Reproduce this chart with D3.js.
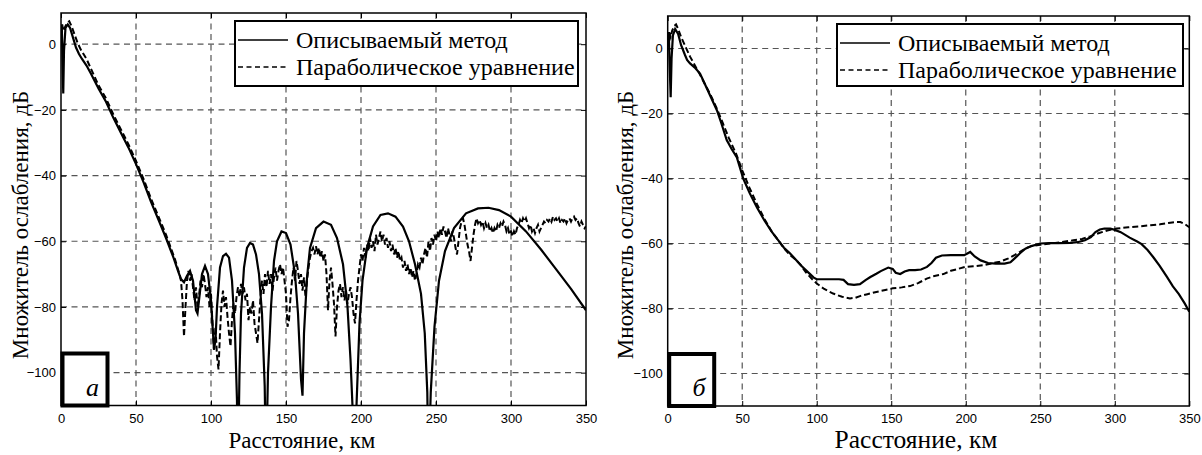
<!DOCTYPE html>
<html>
<head>
<meta charset="utf-8">
<script src="https://cdn.jsdelivr.net/npm/d3@7"></script>
<style>
  body { margin: 0; background: #fff; }
  svg { display: block; }
  .tick text { font-family: "Liberation Sans", Arial, sans-serif; font-size: 13px; fill: #000; }
  .lbl { font-family: "Liberation Serif", "Times New Roman", serif; fill: #000; }
</style>
</head>
<body>
<svg id="chart" width="1202" height="455"></svg>
<script>
// --- data (km, dB) ---
const xTicks = [0, 50, 100, 150, 200, 250, 300, 350];
const yTicks = [-100, -80, -60, -40, -20, 0];
const seriesNames = ["Описываемый метод", "Параболическое уравнение"];

const leftMethod = [[0,4],[0.5,6],[1,-5],[1.5,-15],[2,-2],[3,5],[4.5,6],[6,5],[8,2],[10,-1],[12,-3],[14,-4.5],[17,-6.5],[20,-9],
  [25,-13.5],[30,-17.5],[35,-22.5],[40,-27],[45,-31.5],[50,-36.5],[55,-42],[60,-48],[65,-53.5],[70,-59],[75,-65],[78,-69],
  [80,-71.5],[82,-72.5],[84,-70.5],[86,-69],[88,-72],[90,-81],[91,-82],[92,-78],[94,-70],[96,-67.5],[98,-70],[100,-78],
  [102,-93],[103,-90],[104,-80],[106,-68],[108,-64.5],[110,-63.8],[112,-65],[114,-72],[116,-88],[117.3,-108],[118,-130],
  [119,-100],[120,-82],[122,-68],[124,-62],[126,-60.5],[128,-61],[130,-64],[132,-70],[134,-82],[135.8,-104],[136.7,-130],
  [138,-100],[140,-80],[142,-66],[144,-60],[147,-57],[150,-57.5],[153,-61],[156,-70],[158,-82],[160,-102],[161,-107],
  [162,-88],[164,-71],[166,-62],[170,-56],[175,-54],[180,-55],[184,-59],[188,-67],[191,-80],[193,-96],[194.5,-112],[195.5,-130],
  [197,-110],[199,-85],[201,-72],[204,-62],[208,-55.5],[213,-52],[218,-51.5],[223,-52.5],[228,-55.5],[232,-60],[236,-67],
  [240,-76],[242.5,-88],[244.2,-106],[245,-130],[246.5,-106],[249,-86],[252,-72],[256,-63],[262,-56],[270,-51.5],[278,-50],
  [285,-49.8],[292,-50.5],[300,-52.5],[310,-57],[320,-62.5],[330,-68.5],[340,-74.5],[350,-81]];

const leftParabolic = [[0,3],[0.8,6],[1.5,4],[2.5,5],[4,6.5],[5.5,7],[7,5.5],[9,3],[11,0.5],[13,-1.5],[15,-3],[17,-4.5],[20,-7.5],
  [25,-12.5],[30,-16.5],[35,-21.5],[40,-26],[45,-30.5],[50,-35.5],[55,-41],[60,-47],[65,-52.5],[70,-58],[74,-63],
  [76,-65.5],[77,-67],[78,-68.5],[79,-70],[80,-72],[81,-78],[82,-89],[83,-80],[84,-72],[85,-69],[86,-72],[87,-70],[88,-74],
  [89,-78],[90,-74],[91,-80],[92,-77],[93,-72],[94,-74],[95,-70],[96,-73],[97,-77],[98,-74],[99,-80],[100,-76],[101,-85],
  [102,-93],[103,-86],[104,-95],[105,-99],[106,-88],[107,-79],[108,-75],[109,-80],[110,-77],[111,-83],[112,-88],[113,-92],
  [114,-84],[115,-79],[116,-82],[117,-77],[118,-74],[119,-77],[120,-73],[121,-76],[122,-74],[123,-78],[124,-76],[125,-84],
  [126,-80],[127,-82],[128,-78],[129,-85],[130,-88],[131,-91],[132,-84],[133,-77],[134,-72],[135,-76],[136,-70],[137,-74],
  [138,-69],[139,-73],[140,-70],[141,-75],[142,-71],[143,-68],[144,-72],[145,-69],[146,-67],[147,-70],[148,-68],[149,-72],
  [150,-76],[151,-86],[152,-84],[153,-77],[154,-72],[155,-68],[156,-72],[157,-66],[158,-69],[159,-73],[160,-70],[161,-75],
  [162,-71],[163,-77],[164,-72],[165,-68],[166,-65],[167,-63],[168,-62],[169,-64],[170,-61.5],[171,-64],[172,-62],[173,-65],
  [174,-63],[175,-66],[176,-64],[177,-70],[178,-81],[179,-72],[180,-68],[181,-73],[182,-79],[183,-89],[184,-80],[185,-75],
  [186,-73],[187,-77],[188,-74],[189,-78],[190,-75],[191,-79],[192,-76],[193,-74],[194,-77],[195,-82],[196,-85],[197,-78],
  [198,-72],[199,-68],[200,-64],[201,-66],[202,-62],[203,-65],[204,-61],[205,-63],[206,-59],[207,-62],[208,-60],[209,-63],
  [210,-58],[211,-61],[212,-59],[213,-57],[214,-60],[215,-58],[216,-61],[217,-59],[218,-62],[219,-60],[220,-63],[221,-61],
  [222,-64],[223,-62],[224,-65],[225,-63],[226,-66],[227,-65],[228,-68],[229,-66],[230,-69],[231,-67],[232,-70],[233,-68],
  [234,-71],[235,-69],[236,-72],[237,-70],[238,-67],[239,-68],[240,-65],[241,-67],[242,-64],[243,-62],[244,-65],[245,-60],
  [246,-63],[247,-59],[248,-61],[249,-58],[250,-60],[251,-57],[252,-59],[253,-56],[254,-58],[255,-55.5],[256,-57],[257,-59],
  [258,-56],[259,-58],[260,-60],[261,-57],[262,-59],[263,-62],[264,-64],[265,-60],[266,-56],[267,-54],[268,-53],[269,-55],
  [270,-58],[271,-61],[272,-63],[273,-66],[274,-62],[275,-58],[276,-55],[277,-53],[278,-54.5],[279,-53.5],[280,-55],[281,-54],
  [282,-56],[283,-54.5],[284,-56],[285,-55],[286,-57],[287,-56],[288,-57.5],[289,-56],[290,-57],[291,-55],[292,-56],[293,-54.5],
  [294,-55.5],[295,-54],[296,-55],[297,-57],[298,-56],[299,-58],[300,-57],[301,-58.5],[302,-57],[303,-58],[304,-56],[305,-55],
  [306,-53.5],[307,-54.5],[308,-53],[309,-54],[310,-53],[311,-54.5],[312,-56],[313,-55],[314,-57],[315,-56],[316,-57.5],
  [317,-56],[318,-55],[319,-57],[320,-56],[321,-55],[322,-54],[323,-54.5],[324,-53.5],[325,-54],[326,-53],[327,-54],
  [328,-52.5],[329,-53.5],[330,-53],[331,-54],[332,-53],[333,-54.5],[334,-53.5],[335,-54],[336,-53],[337,-54.5],[338,-53.5],
  [339,-53],[340,-54],[341,-53],[342,-52.5],[343,-53.5],[344,-53],[345,-54.5],[346,-55.5],[347,-54],[348,-55],[349,-56],[350,-55.5]];

const rightMethod = [[0,3],[0.7,5],[1.3,-5],[2,-15],[2.6,-3],[3.5,4],[5,6],[7,4.5],[9,1],[11.6,-2],[13,-3.5],[15,-4.6],[18,-5.8],
  [21.7,-7.7],[25,-11],[29,-15],[33,-19],[36,-23],[39.6,-28.2],[43,-31],[46.3,-33.4],[50.7,-40],[55,-44.5],[60,-49],[65,-53],
  [70,-56.5],[75,-59.5],[78,-61.3],[82,-63],[86,-65],[90,-67],[95,-69.2],[98,-70.5],[100,-71],[105,-71],[110,-71],[115,-71],
  [118,-71.2],[121,-72.5],[125,-72.7],[129,-72.5],[133,-71.2],[136,-70.3],[140,-69.3],[143,-68.5],[148,-67.4],[151,-67.8],
  [153,-69],[156,-69.4],[159,-68.6],[162,-68.2],[166,-68.2],[170,-68],[174,-67.2],[177,-66],[180,-64.4],[184,-63.7],[190,-63.6],
  [199,-63.6],[203,-62.6],[206,-64],[210,-65.2],[215,-66],[220,-66.2],[226,-66.2],[230,-65.8],[233,-64.5],[236.4,-63],[240,-61.6],
  [244,-60.8],[250,-60],[256,-59.9],[262,-59.9],[270,-59.8],[275,-59.6],[280,-59],[284,-58],[287,-56.5],[290,-55.7],[293,-55.4],
  [297,-55.4],[300,-55.8],[304,-56.5],[310,-58.2],[315,-59.4],[318,-60.2],[322,-62],[326,-64.3],[330,-66.8],[335,-70.3],
  [339,-73.2],[343,-75.6],[347,-78.5],[350,-81]];

const rightParabolic = [[0,2],[1,5],[2,3.5],[3,5.5],[4.5,7],[5.6,7.4],[7,6],[9,3.5],[12,0.5],[15,-2.5],[18,-5],[21,-7.5],[25,-11],
  [29,-14.5],[33,-18.5],[37,-23],[41,-27.5],[46,-32.5],[50,-37.5],[55,-43],[60,-48],[65,-52.5],[70,-56.5],[75,-59.5],[78,-61.5],
  [82,-63.5],[86,-65],[89,-66.5],[93,-69],[97,-71],[100,-72.3],[105,-74],[111,-75.4],[117,-76.4],[122.3,-76.9],[126,-76.7],
  [129,-76.2],[134,-75.6],[140,-74.9],[146,-74.3],[151,-73.8],[157,-73.5],[162.6,-73.1],[168,-72.2],[173.8,-70.8],[179,-70],
  [185,-69.4],[190,-68.4],[195,-67.8],[199.5,-67.2],[205,-67],[212,-66.7],[218.5,-66],[223,-65.6],[228.6,-64.6],[233,-63.5],
  [236.4,-62.6],[240,-61.5],[244,-60.8],[250,-60.4],[256.6,-60],[264,-59.6],[272.2,-59],[278,-58.6],[283.4,-57.8],[287,-57.2],
  [290,-56.7],[295,-56],[301.3,-55.4],[309,-55],[317,-54.7],[324,-54.4],[330.4,-54.1],[336,-53.7],[340.5,-53.4],[344,-53.4],
  [347,-54],[350,-55]];

const panels = [
  {id: "a", letter: "а", x0: 61, x1: 586, yTop: 13, yBot: 405.5, yMax: 9.5, method: leftMethod, parabolic: leftParabolic,
   labelX: 28, xLabelCx: 302, xLabelSize: 23, legend: {x: 235, y: 21, w: 343, h: 65}},
  {id: "b", letter: "б", x0: 667.7, x1: 1189.3, yTop: 16, yBot: 406, yMax: 10, method: rightMethod, parabolic: rightParabolic,
   labelX: 633, xLabelCx: 916, xLabelSize: 25.5, legend: {x: 837, y: 24, w: 346, h: 62}}
];

const svg = d3.select("#chart");

panels.forEach(p => {
  const x = d3.scaleLinear().domain([0, 350]).range([p.x0, p.x1]);
  const y = d3.scaleLinear().domain([-110, p.yMax]).range([p.yBot, p.yTop]);
  const g = svg.append("g");
  const w = p.x1 - p.x0, h = p.yBot - p.yTop;

  // grid
  g.append("g").selectAll("line").data(xTicks.slice(1, -1)).enter().append("line")
    .attr("x1", d => x(d)).attr("x2", d => x(d)).attr("y1", p.yTop).attr("y2", p.yBot)
    .attr("stroke", "#555").attr("stroke-width", 1.2).attr("stroke-dasharray", "6,4.5");
  g.append("g").selectAll("line").data(yTicks).enter().append("line")
    .attr("y1", d => y(d)).attr("y2", d => y(d)).attr("x1", p.x0).attr("x2", p.x1)
    .attr("stroke", "#555").attr("stroke-width", 1.2).attr("stroke-dasharray", "6,4.5");

  // axes (ticks inward on all sides)
  g.append("g").attr("transform", `translate(0,${p.yBot})`)
    .call(d3.axisBottom(x).tickValues(xTicks).tickSize(-5).tickPadding(8))
    .call(a => a.select(".domain").remove());
  g.append("g").attr("transform", `translate(0,${p.yTop})`)
    .call(d3.axisTop(x).tickValues(xTicks).tickSize(-5).tickFormat(""))
    .call(a => a.select(".domain").remove());
  g.append("g").attr("transform", `translate(${p.x0},0)`)
    .call(d3.axisLeft(y).tickValues(yTicks).tickSize(-5).tickPadding(5))
    .call(a => a.select(".domain").remove());
  g.append("g").attr("transform", `translate(${p.x1},0)`)
    .call(d3.axisRight(y).tickValues(yTicks).tickSize(-5).tickFormat(""))
    .call(a => a.select(".domain").remove());
  g.selectAll(".tick line").attr("stroke", "#000");

  // clip + lines
  g.append("clipPath").attr("id", "clip-" + p.id).append("rect")
    .attr("x", p.x0).attr("y", p.yTop).attr("width", w).attr("height", h);
  const line = d3.line().x(d => x(d[0])).y(d => y(d[1]));
  g.append("path").datum(p.parabolic).attr("d", line).attr("clip-path", `url(#clip-${p.id})`)
    .attr("fill", "none").attr("stroke", "#000").attr("stroke-width", 2).attr("stroke-dasharray", "6,3");
  g.append("path").datum(p.method).attr("d", line).attr("clip-path", `url(#clip-${p.id})`)
    .attr("fill", "none").attr("stroke", "#000").attr("stroke-width", 2.2);

  // frame
  g.append("rect").attr("x", p.x0).attr("y", p.yTop).attr("width", w).attr("height", h)
    .attr("fill", "none").attr("stroke", "#000").attr("stroke-width", 1.5);

  // axis labels
  g.append("text").attr("class", "lbl").attr("x", p.xLabelCx).attr("y", 448)
    .attr("text-anchor", "middle").style("font-size", p.xLabelSize + "px").text("Расстояние, км");
  g.append("text").attr("class", "lbl")
    .attr("transform", `translate(${p.labelX},225) rotate(-90)`)
    .attr("text-anchor", "middle").style("font-size", "23px").text("Множитель ослабления, дБ");

  // legend
  const L = p.legend;
  const lg = g.append("g").attr("transform", `translate(${L.x},${L.y})`);
  lg.append("rect").attr("width", L.w).attr("height", L.h).attr("fill", "#fff")
    .attr("stroke", "#000").attr("stroke-width", 2);
  seriesNames.forEach((name, i) => {
    const ly = 19 + i * 27;
    lg.append("line").attr("x1", 3).attr("x2", 53).attr("y1", ly).attr("y2", ly)
      .attr("stroke", "#000").attr("stroke-width", 1.6).attr("stroke-dasharray", i ? "5,3.5" : null);
    lg.append("text").attr("class", "lbl").attr("x", 61).attr("y", ly + 7.5)
      .style("font-size", "24px").text(name);
  });

  // panel letter box
  g.append("rect").attr("x", p.x0 + 1.5).attr("y", p.yBot - 52).attr("width", 45).attr("height", 52)
    .attr("fill", "#fff").attr("stroke", "#000").attr("stroke-width", 4);
  g.append("text").attr("class", "lbl").attr("x", p.x0 + 38).attr("y", p.yBot - 10)
    .attr("text-anchor", "end").style("font-size", "26px").style("font-style", "italic").text(p.letter);
});
</script>
</body>
</html>
